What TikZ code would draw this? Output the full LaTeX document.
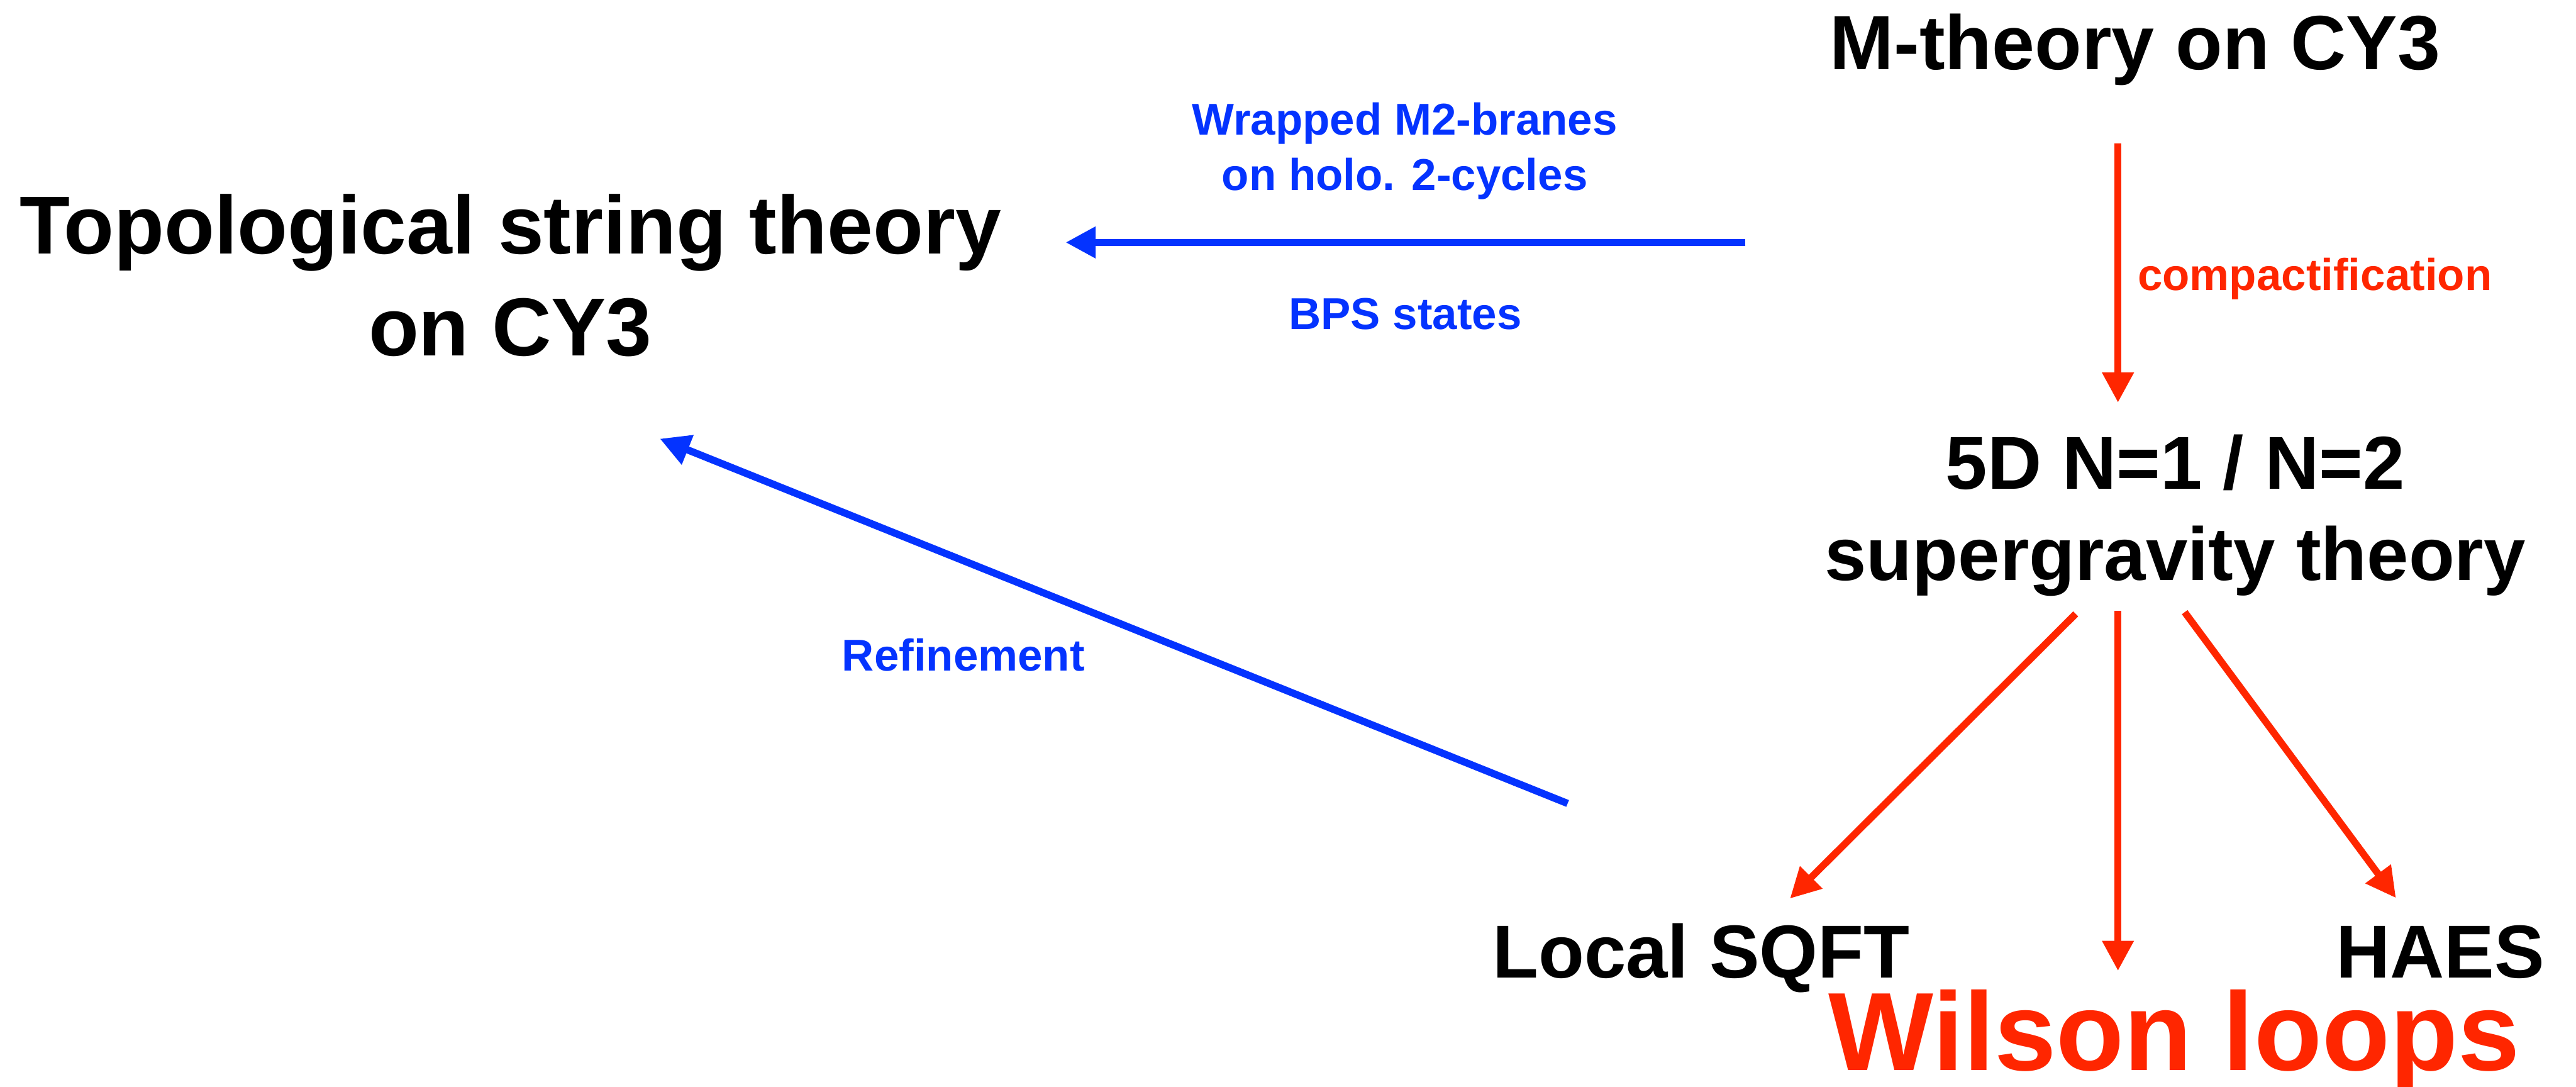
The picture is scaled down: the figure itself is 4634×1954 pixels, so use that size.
\documentclass[tikz,border=0pt]{standalone}
\usepackage{fontspec}
\setmainfont{Liberation Sans}
\usetikzlibrary{arrows.meta}
\definecolor{kblue}{RGB}{4,51,255}
\definecolor{kred}{RGB}{255,38,0}
\tikzset{
  big/.style={inner sep=0pt, anchor=base, align=center, font=\fontsize{42.1pt}{52.1pt}\selectfont\bfseries},
  mid/.style={inner sep=0pt, anchor=base, align=center, font=\fontsize{38.4pt}{46.9pt}\selectfont\bfseries},
  mth/.style={inner sep=0pt, anchor=base, align=center, font=\fontsize{39.3pt}{47pt}\selectfont\bfseries},
  huge/.style={inner sep=0pt, anchor=base, text=kred, font=\fontsize{56.9pt}{68pt}\selectfont\bfseries},
  lbl/.style={inner sep=0pt, anchor=base, align=center, font=\fontsize{22.8pt}{28.2pt}\selectfont\bfseries},
  barrow/.style={draw=kblue, line width=3.7pt, -{Triangle[length=5.4mm, width=5.4mm]}},
  rarrow/.style={draw=kred, line width=3.6pt, -{Triangle[length=5.4mm, width=5.4mm]}},
}
\begin{document}
\begin{tikzpicture}[x=0.01cm, y=-0.01cm]
\useasboundingbox (0,0) rectangle (4634,1954);
% main texts (base anchor of a multi-line node = baseline of its last line)
\node[big] (topo) at (918,640) {Topological string theory\\on CY3};
\node[mth] (mth) at (3841,125) {M-theory on CY3};
\node[mid] (sugra) at (3913,1044) {5D N=1 / N=2\\supergravity theory};
\node[mid] (sqft) at (3060,1759) {Local SQFT};
\node[mid] (haes) at (4390,1759) {HAES};
\node[huge] (wilson) at (3911,1925) {Wilson loops};
% labels
\node[lbl, text=kblue] (wrap) at (2527,342) {Wrapped M2-branes\\on holo. 2-cycles};
\node[lbl, text=kblue] (bps) at (2528,592) {BPS states};
\node[lbl, text=kred, anchor=base west] (comp) at (3845,522) {compactification};
\node[lbl, text=kblue] (refine) at (1733,1206) {Refinement};
% connector end points
\coordinate (h1) at (3140,436);
\coordinate (h2) at (1917,436);
\coordinate (c1) at (3810,258);
\coordinate (c2) at (3810,724);
\coordinate (d1) at (2820,1445);
\coordinate (d2) at (1187,789);
\coordinate (l1) at (3734,1104);
\coordinate (l2) at (3220,1616);
\coordinate (m1) at (3810,1098);
\coordinate (m2) at (3810,1746);
\coordinate (r1) at (3930,1101);
\coordinate (r2) at (4310,1615);
% connectors
\draw[barrow] (h1) -- (h2);
\draw[barrow] (d1) -- (d2);
\draw[rarrow] (c1) -- (c2);
\draw[rarrow] (l1) -- (l2);
\draw[rarrow] (m1) -- (m2);
\draw[rarrow] (r1) -- (r2);
\end{tikzpicture}
\end{document}
